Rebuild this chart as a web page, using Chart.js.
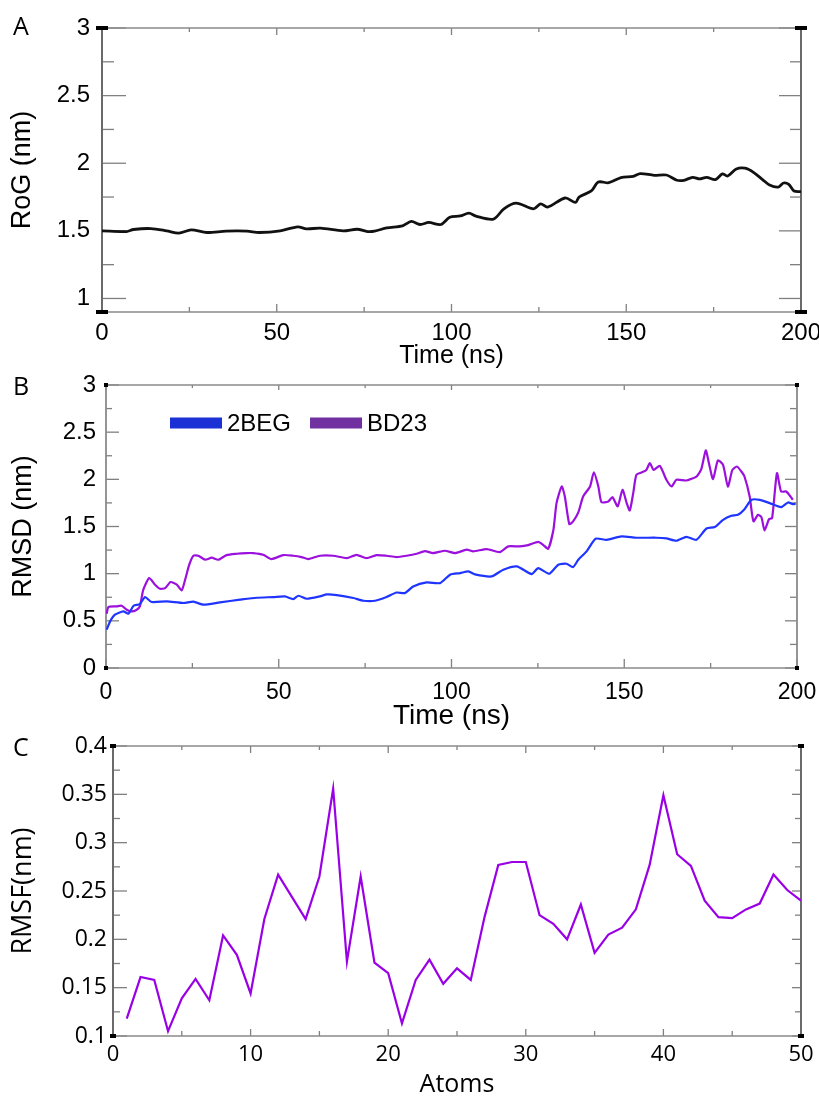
<!DOCTYPE html>
<html>
<head>
<meta charset="utf-8">
<script src="https://cdn.jsdelivr.net/npm/chart.js@4.4.1/dist/chart.umd.min.js"></script>
<style>
  body { margin: 0; background: #fff; }
  #page { position: relative; width: 819px; height: 1100px; overflow: hidden; }
  canvas { position: absolute; left: 0; }
  .tag { position: absolute; left: 13px; font: 25px/25px 'Open Sans', sans-serif; color: #000; }
</style>
</head>
<body>
<div id="page">
  <canvas id="rogChart" width="819" height="372" style="top:0"></canvas>
  <canvas id="rmsdChart" width="819" height="372" style="top:365px"></canvas>
  <canvas id="rmsfChart" width="819" height="372" style="top:728px"></canvas>
  <div class="tag" style="top:13px">A</div>
  <div class="tag" style="top:373px">B</div>
  <div class="tag" style="top:734px">C</div>
</div>
<script>
// ---- Panel A: radius of gyration ----
const rogTime = [0, 7, 9, 14, 18.5, 22, 25.5, 30, 35.5, 41.5, 45, 51, 56, 58.5, 62.5, 69, 73, 76, 78, 81.5,
  86, 88.5, 91, 93.5, 97, 99.5, 102.5, 105, 107, 112, 115, 118.5, 123.5, 125.5, 127.5, 132.5, 135.5, 136.5, 140, 142,
  145, 148.5, 152, 154, 158, 161.5, 164.5, 166.5, 169, 171, 173, 175.5, 177.5, 179, 181.5, 184, 186.5, 189, 191, 193.5,
  195, 196.5, 198, 200];
const rogValue = [1.50, 1.495, 1.51, 1.517, 1.50, 1.483, 1.507, 1.488, 1.498, 1.498, 1.488, 1.50, 1.53, 1.515, 1.52, 1.50, 1.512, 1.495, 1.498, 1.522,
  1.537, 1.57, 1.547, 1.562, 1.547, 1.60, 1.61, 1.631, 1.609, 1.587, 1.663, 1.705, 1.663, 1.70, 1.676, 1.743, 1.71, 1.75, 1.795, 1.861,
  1.856, 1.894, 1.903, 1.923, 1.911, 1.913, 1.874, 1.874, 1.896, 1.884, 1.896, 1.879, 1.921, 1.906, 1.958, 1.963, 1.931, 1.879, 1.839, 1.824,
  1.854, 1.844, 1.795, 1.79];
const rogYTicks = [1, 1.5, 2, 2.5, 3];
const rogYMinor = [1.25, 1.75, 2.25, 2.75];
const timeTicks = [0, 50, 100, 150, 200];
const timeMinor = [25, 75, 125, 175];

// ---- Panel B: RMSD ----
const rmsdLabels = ['2BEG', 'BD23'];
const time2BEG = [0.2, 1.2, 2.6, 5, 6.5, 8, 9.8, 11.3, 13.2, 17.6, 22.4, 25.3, 28.2, 33, 38.8, 43.6, 48.4, 51.8, 54.2, 55.7,
  58.1, 61.9, 63.9, 66.8, 71.6, 74.5, 77.9, 81.2, 84.1, 86.5, 88.9, 92.8, 96.7, 99.6, 102.5, 104.9, 106.8, 111.6, 115, 118.9,
  123.2, 125.1, 128.3, 130.9, 133.3, 135.2, 136.7, 139.1, 141.7, 144.9, 149.2, 153.5, 159.3, 162.2, 165.1, 168, 170.9, 173.8, 176.2, 178.6,
  181, 182.9, 184.8, 186.8, 189.2, 192.1, 195.4, 197.4, 198.8, 199.6];
const rmsd2BEG = [0.406, 0.494, 0.565, 0.60, 0.576, 0.66, 0.678, 0.752, 0.70, 0.706, 0.689, 0.703, 0.671, 0.696, 0.724, 0.745, 0.752, 0.759, 0.731, 0.766,
  0.734, 0.759, 0.78, 0.773, 0.742, 0.713, 0.713, 0.752, 0.80, 0.794, 0.865, 0.907, 0.90, 0.989, 1.006, 1.024, 0.992, 0.971, 1.042, 1.077,
  0.996, 1.059, 0.999, 1.095, 1.105, 1.07, 1.148, 1.236, 1.37, 1.359, 1.395, 1.381, 1.381, 1.374, 1.349, 1.391, 1.359, 1.479, 1.494, 1.571,
  1.614, 1.624, 1.684, 1.783, 1.783, 1.748, 1.706, 1.755, 1.737, 1.74];
const timeBD23 = [0.2, 0.7, 3.1, 4.5, 6, 7.4, 8.9, 9.8, 10.8, 12.5, 14.2, 15.6, 17.1, 18.7, 20.5, 21.9, 22.9, 24.1, 25.3, 26.7,
  28.7, 30.6, 32.5, 34.9, 37.8, 40.7, 42.6, 45.5, 47.9, 51.3, 54.2, 56.6, 58.6, 61.9, 65.8, 69.7, 72.5, 75.4, 78.3, 81.2,
  84.1, 87, 89.9, 92.3, 94.7, 98.1, 101, 104.4, 106.3, 110.2, 114, 116.4, 119.8, 122.2, 125.1, 126.6, 128, 129.5, 130.4, 131.9,
  132.8, 134.1, 135.2, 136.7, 138.1, 140.1, 141.2, 142.5, 143.4, 145.4, 146.6, 148.1, 149.5, 150.7, 151.6, 152.6, 153.5, 155, 156.4, 157.4,
  158.5, 160.3, 162.2, 163.7, 165.1, 168, 170.9, 172.3, 173.6, 174.5, 175.7, 177.1, 178.6, 180, 181.3, 182.6, 183.9, 184.8, 186.3, 187.4,
  188.7, 189.7, 190.6, 191.9, 192.8, 194.2, 195.4, 196.9, 198.8];
const rmsdBD23 = [0.576, 0.646, 0.653, 0.66, 0.618, 0.60, 0.618, 0.653, 0.83, 0.953, 0.883, 0.84, 0.847, 0.911, 0.883, 0.823, 0.936, 1.095, 1.19, 1.19,
  1.148, 1.169, 1.148, 1.197, 1.211, 1.218, 1.218, 1.20, 1.155, 1.197, 1.19, 1.176, 1.155, 1.19, 1.19, 1.165, 1.20, 1.165, 1.197, 1.19,
  1.176, 1.19, 1.211, 1.239, 1.218, 1.243, 1.218, 1.254, 1.236, 1.261, 1.229, 1.289, 1.289, 1.303, 1.338, 1.303, 1.264, 1.465, 1.748, 1.924,
  1.818, 1.525, 1.554, 1.649, 1.818, 1.924, 2.073, 1.924, 1.758, 1.766, 1.811, 1.713, 1.889, 1.748, 1.67, 1.854, 2.048, 2.073, 2.10, 2.172,
  2.10, 2.143, 1.995, 1.924, 1.995, 1.988, 2.03, 2.108, 2.306, 2.172, 2.002, 2.20, 2.154, 1.924, 2.10, 2.136, 2.083, 2.03, 1.818, 1.554,
  1.624, 1.60, 1.458, 1.578, 1.589, 2.066, 1.871, 1.871, 1.783];
const rmsdYTicks = [0, 0.5, 1, 1.5, 2, 2.5, 3];
const rmsdYMinor = [0.25, 0.75, 1.25, 1.75, 2.25, 2.75];

// ---- Panel C: RMSF ----
const atoms = [1, 2, 3, 4, 5, 6, 7, 8, 9, 10, 11, 12, 13, 14, 15, 16, 17, 18, 19, 20, 21, 22, 23, 24, 25,
  26, 27, 28, 29, 30, 31, 32, 33, 34, 35, 36, 37, 38, 39, 40, 41, 42, 43, 44, 45, 46, 47, 48, 49, 50];
const rmsf = [0.118, 0.161, 0.158, 0.105, 0.139, 0.159, 0.137, 0.204, 0.184, 0.144,
  0.221, 0.267, 0.244, 0.221, 0.265, 0.356, 0.177, 0.265, 0.176, 0.165,
  0.113, 0.158, 0.179, 0.154, 0.170, 0.158, 0.223, 0.277, 0.280, 0.280,
  0.225, 0.216, 0.200, 0.236, 0.186, 0.205, 0.212, 0.231, 0.277, 0.349,
  0.288, 0.276, 0.240, 0.223, 0.222, 0.231, 0.237, 0.267, 0.251, 0.240];
const atomTicks = [0, 10, 20, 30, 40, 50];
const atomMinor = [5, 15, 25, 35, 45];
const rmsfYTicks = [0.1, 0.15, 0.2, 0.25, 0.3, 0.35, 0.4];
const rmsfYMinor = [0.125, 0.175, 0.225, 0.275, 0.325, 0.375];

const toPoints = (xs, ys) => xs.map((x, i) => ({ x: x, y: ys[i] }));

// inward tick marks + box frame, drawn from the scales
const frameTicks = {
  id: 'frameTicks',
  beforeDatasetsDraw(chart, args, o) {
    const { ctx, chartArea: a } = chart;
    const xs = chart.scales.x, ys = chart.scales.y;
    ctx.save();
    const seg = (x1, y1, x2, y2) => { ctx.beginPath(); ctx.moveTo(x1, y1); ctx.lineTo(x2, y2); ctx.stroke(); };
    ctx.strokeStyle = o.tickColor;
    ctx.lineWidth = o.tickWidth;
    const yMarks = (vals, len) => vals.forEach(v => {
      const p = ys.getPixelForValue(v);
      seg(a.left, p, a.left + len[0], p);
      seg(a.right, p, a.right - len[1], p);
    });
    const xMarks = (vals, len) => vals.forEach(v => {
      const p = xs.getPixelForValue(v);
      seg(p, a.top, p, a.top + len[0]);
      seg(p, a.bottom, p, a.bottom - len[1]);
    });
    yMarks(o.yMajor, o.yMajorLen);
    yMarks(o.yMinor, o.yMinorLen);
    xMarks(o.xMajor, o.xMajorLen);
    xMarks(o.xMinor, o.xMinorLen);
    ctx.strokeStyle = o.hColor;
    ctx.lineWidth = o.hWidth;
    seg(a.left, a.top, a.right, a.top);
    seg(a.left, a.bottom, a.right, a.bottom);
    ctx.strokeStyle = o.vColor;
    ctx.lineWidth = o.vWidth;
    seg(a.left, a.top, a.left, a.bottom);
    seg(a.right, a.top, a.right, a.bottom);
    ctx.fillStyle = '#000';
    [[a.left, a.top], [a.left, a.bottom], [a.right, a.top], [a.right, a.bottom]].forEach(([cx, cy]) => {
      ctx.fillRect(cx - o.cap[0] / 2, cy - o.cap[1] / 2, o.cap[0], o.cap[1]);
    });
    ctx.restore();
  }
};

// legend drawn inside the plot area (panel B)
const insideLegend = {
  id: 'insideLegend',
  afterDraw(chart, args, o) {
    const ctx = chart.ctx;
    let x = o.x;
    ctx.save();
    ctx.font = o.font;
    ctx.textBaseline = 'middle';
    chart.data.datasets.forEach((ds, i) => {
      ctx.fillStyle = o.colors[i];
      ctx.fillRect(x, o.y - 5.5, 52, 11);
      ctx.fillStyle = '#000';
      ctx.fillText(ds.label, x + 57, o.y + 1);
      x += 57 + ctx.measureText(ds.label).width + 19;
    });
    ctx.restore();
  }
};

function scalesFor(o) {
  return {
    x: {
      type: 'linear', min: o.xMin, max: o.xMax,
      grid: { display: false, drawTicks: false }, border: { display: false },
      afterBuildTicks: s => { s.ticks = o.xTicks.map(v => ({ value: v })); },
      afterFit: s => { s.height = o.xHeight; s.paddingLeft = 0; s.paddingRight = 0; },
      ticks: { autoSkip: false, maxRotation: 0, padding: o.xPad, font: o.xFont, color: '#000', callback: v => String(v) },
      title: { display: true, text: o.xTitle, font: o.xTitleFont, color: '#000', padding: { top: 0, bottom: o.xTitlePad } }
    },
    y: {
      type: 'linear', min: o.yMin, max: o.yMax,
      grid: { display: false, drawTicks: false }, border: { display: false },
      afterBuildTicks: s => { s.ticks = o.yTicks.map(v => ({ value: v })); },
      afterFit: s => { s.width = o.yWidth; s.paddingTop = 0; s.paddingBottom = 0; },
      ticks: { autoSkip: false, padding: o.yPad, font: o.yFont, color: '#000', callback: v => String(v) },
      title: { display: true, text: o.yTitle, font: o.yTitleFont, color: '#000', padding: { top: o.yTitlePad, bottom: 0 } }
    }
  };
}

const arial = 'Liberation Sans, Arial, sans-serif';
const segoe = 'Open Sans, Segoe UI, sans-serif';

// Panel A
new Chart(document.getElementById('rogChart'), {
  type: 'line',
  data: {
    datasets: [{
      label: 'RoG',
      data: toPoints(rogTime, rogValue),
      borderColor: '#111111',
      borderWidth: 2.8,
      pointRadius: 0,
      tension: 0.3
    }]
  },
  options: {
    responsive: false,
    animation: false,
    layout: { padding: { top: 28, right: 18, bottom: 0, left: 0 } },
    plugins: {
      legend: { display: false },
      tooltip: { enabled: false },
      frameTicks: {
        tickColor: '#808080', tickWidth: 1.3,
        yMajor: rogYTicks, yMinor: rogYMinor, yMajorLen: [24, 22], yMinorLen: [12, 11],
        xMajor: timeTicks, xMinor: timeMinor, xMajorLen: [7, 8], xMinorLen: [4, 5],
        hColor: '#8a8a8a', hWidth: 1.3, vColor: '#6a6a6a', vWidth: 2, cap: [12, 4]
      }
    },
    scales: scalesFor({
      xMin: 0, xMax: 200, xTicks: timeTicks, xHeight: 60, xPad: 7,
      xFont: { family: arial, size: 24 }, xTitle: 'Time (ns)', xTitleFont: { family: arial, size: 25 }, xTitlePad: 1,
      yMin: 0.9, yMax: 3, yTicks: rogYTicks, yWidth: 102, yPad: 12,
      yFont: { family: arial, size: 24 }, yTitle: 'RoG (nm)', yTitleFont: { family: arial, size: 27 }, yTitlePad: 6
    })
  },
  plugins: [frameTicks]
});

// Panel B
new Chart(document.getElementById('rmsdChart'), {
  type: 'line',
  data: {
    datasets: [{
      label: rmsdLabels[0],
      data: toPoints(time2BEG, rmsd2BEG),
      borderColor: '#1f35ff',
      borderWidth: 2.2,
      pointRadius: 0,
      tension: 0.2
    }, {
      label: rmsdLabels[1],
      data: toPoints(timeBD23, rmsdBD23),
      borderColor: '#9b10dd',
      borderWidth: 2.2,
      pointRadius: 0,
      tension: 0.2
    }]
  },
  options: {
    responsive: false,
    animation: false,
    layout: { padding: { top: 20, right: 22, bottom: 0, left: 0 } },
    plugins: {
      legend: { display: false },
      tooltip: { enabled: false },
      insideLegend: { x: 170, y: 58, colors: ['#1b31d6', '#7030a0'], font: '24px ' + arial },
      frameTicks: {
        tickColor: '#808080', tickWidth: 1.3,
        yMajor: rmsdYTicks, yMinor: rmsdYMinor, yMajorLen: [13, 12], yMinorLen: [6, 7],
        xMajor: timeTicks, xMinor: timeMinor, xMajorLen: [5, 9], xMinorLen: [3, 5],
        hColor: '#8a8a8a', hWidth: 1.5, vColor: '#8a8a8a', vWidth: 1.8, cap: [4, 4]
      }
    },
    scales: scalesFor({
      xMin: 0, xMax: 200, xTicks: timeTicks, xHeight: 69, xPad: 11,
      xFont: { family: arial, size: 23 }, xTitle: 'Time (ns)', xTitleFont: { family: arial, size: 28 }, xTitlePad: 4,
      yMin: 0, yMax: 3, yTicks: rmsdYTicks, yWidth: 106, yPad: 10,
      yFont: { family: arial, size: 24 }, yTitle: 'RMSD (nm)', yTitleFont: { family: arial, size: 27 }, yTitlePad: 7
    })
  },
  plugins: [frameTicks, insideLegend]
});

// Panel C
new Chart(document.getElementById('rmsfChart'), {
  type: 'line',
  data: {
    datasets: [{
      label: 'RMSF',
      data: toPoints(atoms, rmsf),
      borderColor: '#9a00e6',
      borderWidth: 2.2,
      pointRadius: 0,
      tension: 0
    }]
  },
  options: {
    responsive: false,
    animation: false,
    layout: { padding: { top: 18, right: 18, bottom: 0, left: 0 } },
    plugins: {
      legend: { display: false },
      tooltip: { enabled: false },
      frameTicks: {
        tickColor: '#808080', tickWidth: 1.3,
        yMajor: rmsfYTicks, yMinor: rmsfYMinor, yMajorLen: [14, 9], yMinorLen: [7, 6],
        xMajor: atomTicks, xMinor: atomMinor, xMajorLen: [7, 7], xMinorLen: [4, 5],
        hColor: '#8a8a8a', hWidth: 1.3, vColor: '#6a6a6a', vWidth: 2, cap: [6, 4]
      }
    },
    scales: scalesFor({
      xMin: 0, xMax: 50, xTicks: atomTicks, xHeight: 64, xPad: 6,
      xFont: { family: segoe, size: 22 }, xTitle: 'Atoms', xTitleFont: { family: segoe, size: 25 }, xTitlePad: 0,
      yMin: 0.1, yMax: 0.4, yTicks: rmsfYTicks, yWidth: 113, yPad: 6,
      yFont: { family: segoe, size: 23 }, yTitle: 'RMSF(nm)', yTitleFont: { family: segoe, size: 27 }, yTitlePad: 7
    })
  },
  plugins: [frameTicks]
});
</script>
</body>
</html>
